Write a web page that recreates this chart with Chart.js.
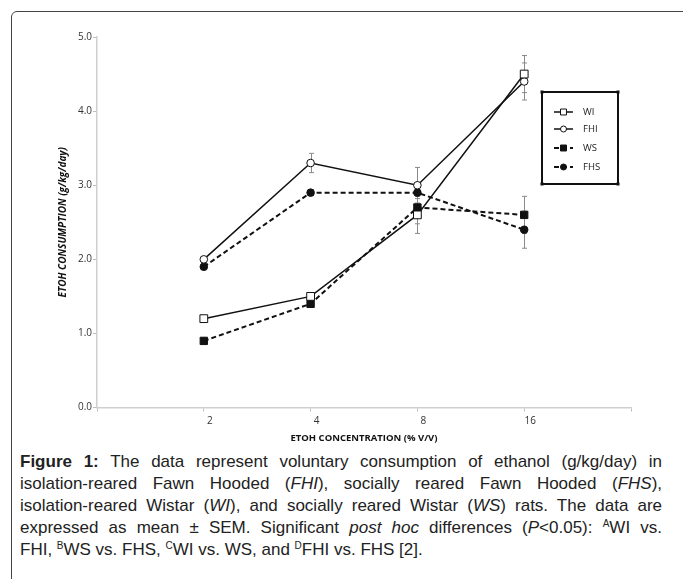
<!DOCTYPE html>
<html>
<head>
<meta charset="utf-8">
<script src="https://cdn.jsdelivr.net/npm/chart.js@4/dist/chart.umd.min.js"></script>
<style>
  html, body { margin: 0; padding: 0; background: #fff; }
  body { width: 683px; height: 579px; position: relative; overflow: hidden; }
  #frame {
    position: absolute; left: 11px; top: 11px; width: 700px; height: 600px;
    border: 1.5px solid #444; border-radius: 6px; box-sizing: border-box;
  }
  #wrap { position: absolute; left: 0; top: 0; width: 683px; height: 444px; }
  #caption {
    position: absolute; left: 20px; top: 451px; width: 642px;
    font-family: "Liberation Sans", Arial, sans-serif; font-size: 17px;
    line-height: 22px; color: #222;
  }
  #caption .j { text-align: justify; text-align-last: justify; }
  #caption sup { font-size: 10px; vertical-align: 6px; line-height: 0; }
</style>
</head>
<body>
<div id="frame"></div>
<div id="wrap"><canvas id="chart"></canvas></div>
<div id="caption">
  <div class="j"><b>Figure 1:</b> The data represent voluntary consumption of ethanol (g/kg/day) in</div>
  <div class="j">isolation-reared Fawn Hooded (<i>FHI</i>), socially reared Fawn Hooded (<i>FHS</i>),</div>
  <div class="j">isolation-reared Wistar (<i>WI</i>), and socially reared Wistar (<i>WS</i>) rats. The data are</div>
  <div class="j">expressed as mean ± SEM. Significant <i>post hoc</i> differences (<i>P</i>&lt;0.05): <sup>A</sup>WI vs.</div>
  <div>FHI, <sup>B</sup>WS vs. FHS, <sup>C</sup>WI vs. WS, and <sup>D</sup>FHI vs. FHS [2].</div>
</div>
<script>
// ETOH concentration (% v/v) — plotted at positions 1..4 on a 0..5 axis
const CONCENTRATIONS = ['2', '4', '8', '16'];

// mean consumption, g/kg/day
const WI  = [1.2, 1.5, 2.6, 4.5];
const FHI = [2.0, 3.3, 3.0, 4.4];
const WS  = [0.9, 1.4, 2.7, 2.6];
const FHS = [1.9, 2.9, 2.9, 2.4];

// SEM
const WI_SEM  = [0.04, 0.04, 0.25, 0.25];
const FHI_SEM = [0.04, 0.13, 0.24, 0.25];
const WS_SEM  = [0.04, 0.04, 0.22, 0.25];
const FHS_SEM = [0.04, 0.04, 0.08, 0.25];

const Y_TICKS = [0, 1, 2, 3, 4, 5];

const toPoints = arr => arr.map((y, i) => ({ x: i + 1, y }));

// whiskers for mean ± SEM, drawn under the lines
const errorBars = {
  id: 'errorBars',
  beforeDatasetsDraw(chart) {
    const { ctx, scales: { x, y } } = chart;
    ctx.save();
    ctx.strokeStyle = '#8a8a8a';
    ctx.lineWidth = 1;
    chart.data.datasets.forEach(ds => {
      (ds.sem || []).forEach((e, i) => {
        const px = Math.round(x.getPixelForValue(ds.data[i].x)) + 0.5;
        const top = y.getPixelForValue(ds.data[i].y + e);
        const bot = y.getPixelForValue(ds.data[i].y - e);
        ctx.beginPath();
        ctx.moveTo(px, top); ctx.lineTo(px, bot);
        ctx.moveTo(px - 2.5, top); ctx.lineTo(px + 2.5, top);
        ctx.moveTo(px - 2.5, bot); ctx.lineTo(px + 2.5, bot);
        ctx.stroke();
      });
    });
    ctx.restore();
  }
};

// boxed legend inside the plot, like the original figure
const boxLegend = {
  id: 'boxLegend',
  afterDraw(chart) {
    const { ctx } = chart;
    const bx = 542, by = 92, bw = 76, bh = 92;
    ctx.save();
    ctx.strokeStyle = '#111';
    ctx.lineWidth = 2;
    ctx.strokeRect(bx, by, bw, bh);
    ctx.fillStyle = '#111';
    [[bx, by], [bx + bw, by], [bx, by + bh], [bx + bw, by + bh]].forEach(([cx, cy]) => {
      ctx.fillRect(cx - 1.5, cy - 1.5, 3, 3);
    });
    const rows = [112, 129, 148, 167];
    chart.data.datasets.forEach((ds, i) => {
      const ly = rows[i];
      ctx.beginPath();
      ctx.setLineDash(ds.borderDash || []);
      ctx.lineWidth = ds.borderWidth;
      ctx.strokeStyle = '#111';
      ctx.moveTo(554, ly); ctx.lineTo(573, ly);
      ctx.stroke();
      ctx.setLineDash([]);
      ctx.lineWidth = 1;
      ctx.fillStyle = ds.pointBackgroundColor;
      Chart.helpers.drawPoint(ctx, {
        pointStyle: ds.pointStyle, rotation: 0, borderWidth: 1,
        radius: ds.pointStyle === 'rect' ? 4.2 : 3
      }, 563.5, ly);
      ctx.fillStyle = '#222';
      ctx.font = '9.5px "Open Sans", sans-serif';
      ctx.textBaseline = 'middle';
      ctx.fillText(ds.label, 583, ly);
    });
    ctx.restore();
  }
};

const common = {
  borderColor: '#111',
  pointBorderColor: '#111',
  pointBorderWidth: 1,
  tension: 0,
  fill: false,
};

new Chart(document.getElementById('chart'), {
  type: 'line',
  data: {
    datasets: [
      { ...common, label: 'WI', data: toPoints(WI), sem: WI_SEM, borderWidth: 1.5,
        pointStyle: 'rect', pointRadius: 5.5, pointBackgroundColor: '#fff' },
      { ...common, label: 'FHI', data: toPoints(FHI), sem: FHI_SEM, borderWidth: 1.5,
        pointStyle: 'circle', pointRadius: 3.8, pointBackgroundColor: '#fff' },
      { ...common, label: 'WS', data: toPoints(WS), sem: WS_SEM, borderWidth: 2,
        borderDash: [5, 3], pointStyle: 'rect', pointRadius: 5.2, pointBackgroundColor: '#111' },
      { ...common, label: 'FHS', data: toPoints(FHS), sem: FHS_SEM, borderWidth: 2,
        borderDash: [5, 3], pointStyle: 'circle', pointRadius: 3.8, pointBackgroundColor: '#111' },
    ],
  },
  options: {
    responsive: true,
    maintainAspectRatio: false,
    animation: false,
    layout: { padding: { top: 37, right: 52, left: 0, bottom: 0 } },
    plugins: {
      legend: { display: false },
      tooltip: { enabled: false },
    },
    scales: {
      x: {
        type: 'linear',
        min: 0,
        max: CONCENTRATIONS.length + 1,
        border: { color: '#cfcfcf', width: 1.5 },
        grid: { drawOnChartArea: false, tickLength: 4, color: '#bdbdbd' },
        ticks: {
          stepSize: 1,
          labelOffset: 6,
          padding: 4,
          color: '#333',
          font: { size: 10, family: '"Open Sans", sans-serif' },
          callback: v => CONCENTRATIONS[v - 1] || '',
        },
        title: {
          display: true,
          text: 'ETOH CONCENTRATION (% V/V)',
          color: '#111',
          font: { size: 9.5, weight: 'bold', family: '"Open Sans", sans-serif' },
          padding: { top: 1, bottom: 0 },
        },
      },
      y: {
        min: 0,
        max: 5,
        afterFit: s => { s.width = 97; },
        afterBuildTicks: s => { s.ticks = Y_TICKS.map(v => ({ value: v })); },
        border: { color: '#cfcfcf', width: 1.5 },
        grid: { drawOnChartArea: false, tickLength: 4, color: '#bdbdbd' },
        ticks: {
          padding: 1,
          color: '#333',
          font: { size: 10, family: '"Open Sans", sans-serif' },
          callback: v => v.toFixed(1),
        },
        title: {
          display: true,
          text: 'ETOH CONSUMPTION (g/kg/day)',
          color: '#111',
          font: { size: 10, weight: 'bold', style: 'italic', family: '"Open Sans", sans-serif' },
          padding: { top: 57, bottom: 0 },
        },
      },
    },
  },
  plugins: [errorBars, boxLegend],
});
</script>
</body>
</html>
